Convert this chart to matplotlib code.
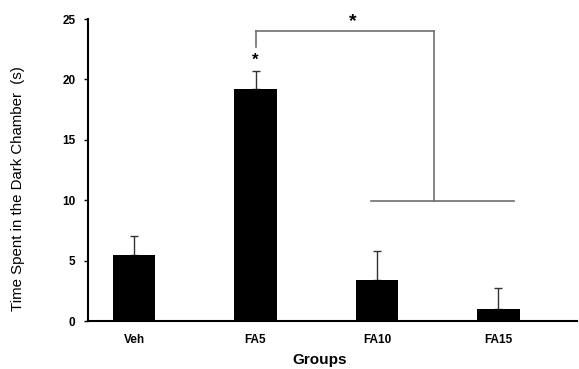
import matplotlib
matplotlib.use("Agg")
from matplotlib import pyplot as plt
import numpy as np

groups = ["Veh", "FA5", "FA10", "FA15"]
means = [5.5, 19.2, 3.4, 1.0]
errs = [1.5, 1.5, 2.4, 1.7]

plt.rcParams['font.family'] = ['Liberation Sans', 'DejaVu Sans']

fig = plt.figure(figsize=(5.79, 3.69), dpi=100)
ax = fig.add_axes([0.152, 0.130, 0.845, 0.8185])

x = np.arange(len(groups))
ax.bar(x, means, width=0.35, color='black', zorder=2)
# one-sided error bars (upper only)
ax.errorbar(x, means, yerr=[np.zeros(len(errs)), errs], fmt='none',
            ecolor='#333333', elinewidth=1, capsize=3, capthick=1, zorder=1)

ax.set_xlim(-0.38, 3.65)
ax.set_ylim(0, 25)
ax.set_yticks([0, 5, 10, 15, 20, 25])
ax.set_xticks(x)
ax.set_xticklabels(groups, fontsize=8.5, fontweight='bold')
ax.tick_params(axis='x', length=0, pad=9)
ax.tick_params(axis='y', length=3, width=1, labelsize=8.5, pad=6)
for lab in ax.get_yticklabels():
    lab.set_fontweight('bold')

for s in ['top', 'right']:
    ax.spines[s].set_visible(False)
for s in ['left', 'bottom']:
    ax.spines[s].set_linewidth(1.5)

ax.set_ylabel("Time Spent in the Dark Chamber  (s)", fontsize=10.8)
ax.yaxis.set_label_coords(-0.128, 0.44)
ax.set_xlabel("Groups", fontsize=11, fontweight='bold')
ax.xaxis.set_label_coords(0.474, -0.105)

# significance bracket
lc = '#707070'
ax.plot([1, 1], [22.7, 24], color=lc, lw=1.2, clip_on=False)
ax.plot([1, 2.47], [24, 24], color=lc, lw=1.2, clip_on=False)
ax.plot([2.47, 2.47], [24, 9.9], color=lc, lw=1.2, clip_on=False)
ax.plot([1.95, 3.13], [9.9, 9.9], color=lc, lw=1.2, clip_on=False)
ax.text(1.0, 21.6, "*", ha='center', va='center', fontsize=12, fontweight='bold')
ax.text(1.8, 24.8, "*", ha='center', va='center', fontsize=14, fontweight='bold',
        clip_on=False)

fig.savefig("out.png", dpi=100)
